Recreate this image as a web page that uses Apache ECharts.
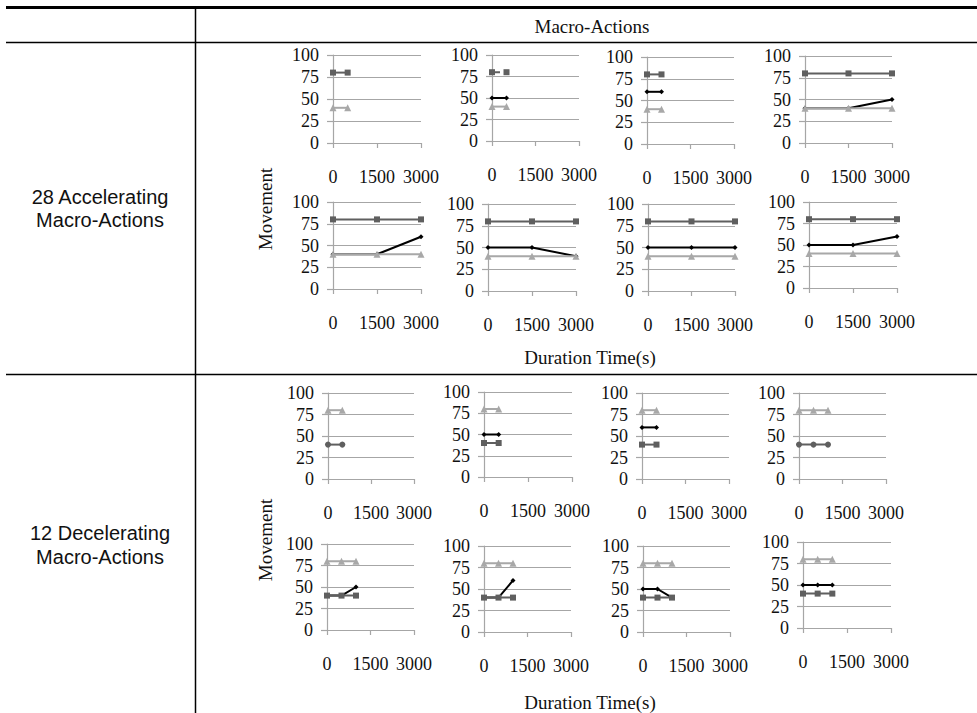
<!DOCTYPE html>
<html>
<head>
<meta charset="utf-8">
<script src="https://cdn.jsdelivr.net/npm/echarts@6/dist/echarts.min.js"></script>
<style>
html,body{margin:0;padding:0;background:#fff;}
#c{width:977px;height:713px;}
</style>
</head>
<body>
<div id="c"></div>
<script>
// ---- data ----
const xTicks = [0, 1500, 3000];
const yTicks = [0, 25, 50, 75, 100];
const groupLabels = ['28 Accelerating\nMacro-Actions', '12 Decelerating\nMacro-Actions'];
const headerLabel = 'Macro-Actions';
const xName = 'Duration Time(s)';
const yName = 'Movement';

// Accelerating macro-actions (8 panels)
const accTime  = [[0,500],[0,500],[0,500],[0,1500,3000],[0,1500,3000],[0,1500,3000],[0,1500,3000],[0,1500,3000]];
const accDark  = [[80,80],[80,80],[80,80],[80,80,80],[80,80,80],[80,80,80],[80,80,80],[80,80,80]];
const accLight = [[40,40],[40,40],[40,40],[40,40,40],[40,40,40],[40,40,40],[40,40,40],[40,40,40]];
const accBlack = [[],[50,50],[60,60],[40,40,50],[40,40,60],[50,50,40],[50,50,50],[50,50,60]];

// Decelerating macro-actions (8 panels)
const decTime  = [[0,500],[0,500],[0,500],[0,500,1000],[0,500,1000],[0,500,1000],[0,500,1000],[0,500,1000]];
const decLight = [[80,80],[80,80],[80,80],[80,80,80],[80,80,80],[80,80,80],[80,80,80],[80,80,80]];
const decDark  = [[40,40],[40,40],[40,40],[40,40,40],[40,40,40],[40,40,40],[40,40,40],[40,40,40]];
const decBlack = [[],[50,50],[60,60],[],[40,40,50],[40,40,60],[50,50,40],[50,50,50]];

// ---- layout (pixel boxes of each panel: left, right, top(100), bottom(0)) ----
const boxes = [
  [333,421,55,143],[492,579,55,141],[647,734,57,144],[805,892,56,143],
  [333,421,202,289],[488,576,204,291],[648,735,204,291],[809,897,202,288],
  [328,414,393,479],[484,572,392,477],[642,729,393,479],[799,886,393,479],
  [327,414,544,630],[484,571,546,632],[643,730,546,632],[803,891,542,628]
];

const DARK = '#5f5f5f', LIGHT = '#a8a8a8', BLACK = '#000000', GRID = '#a6a6a6';
const SERIF = 'Liberation Serif';
const SANS = 'Liberation Sans';

const grids = [], xAxes = [], yAxes = [], series = [];
function pairs(t, v){ return v.map((y,i)=>[t[i], y]); }

for (let k = 0; k < 16; k++) {
  const b = boxes[k];
  grids.push({left:b[0], top:b[2], width:b[1]-b[0], height:b[3]-b[2], containLabel:false});
  xAxes.push({
    gridIndex:k, type:'value', min:xTicks[0], max:xTicks[xTicks.length-1], interval:xTicks[1]-xTicks[0],
    axisLine:{show:true, onZero:false, lineStyle:{color:GRID, width:1.2}},
    axisTick:{show:true, length:5, lineStyle:{color:GRID, width:1.2}},
    splitLine:{show:false},
    axisLabel:{fontFamily:SERIF, fontSize:18, color:'#111', margin:25, formatter:(v)=>String(v), showMinLabel:true, showMaxLabel:true}
  });
  yAxes.push({
    gridIndex:k, type:'value', min:yTicks[0], max:yTicks[yTicks.length-1], interval:yTicks[1]-yTicks[0],
    axisLine:{show:true, lineStyle:{color:GRID, width:1.2}},
    axisTick:{show:true, length:6, lineStyle:{color:GRID, width:1.2}},
    splitLine:{show:true, lineStyle:{color:GRID, width:1.2}},
    axisLabel:{fontFamily:SERIF, fontSize:18, color:'#111', margin:14, formatter:(v)=>String(v)}
  });
  const acc = k < 8, i = k % 8;
  const t = acc ? accTime[i] : decTime[i];
  const blk = acc ? accBlack[i] : decBlack[i];
  const dark = acc ? accDark[i] : decDark[i];
  const light = acc ? accLight[i] : decLight[i];
  if (blk.length) series.push({type:'line', xAxisIndex:k, yAxisIndex:k, data:pairs(t,blk), z:2,
    symbol:'diamond', symbolSize:5, showSymbol:true, animation:false,
    lineStyle:{color:BLACK, width:2}, itemStyle:{color:BLACK}});
  series.push({type:'line', xAxisIndex:k, yAxisIndex:k, data:pairs(t,dark), z:3,
    symbol:(!acc && !blk.length) ? 'circle' : 'rect', symbolSize:6, animation:false,
    lineStyle:{color:DARK, width:2, type:(k===1?'dashed':'solid')}, itemStyle:{color:DARK}});
  series.push({type:'line', xAxisIndex:k, yAxisIndex:k, data:pairs(t,light), z:4,
    symbol:'triangle', symbolSize:7, animation:false,
    lineStyle:{color:LIGHT, width:2}, itemStyle:{color:LIGHT}});
}

const lineStyle = (w)=>({stroke:'#000', lineWidth:w});
const txt = (text, size, fam, extra)=>Object.assign({text:text, fontSize:size, fontFamily:fam, fill:'#111', textAlign:'center', textVerticalAlign:'middle'}, extra||{});
const graphic = [
  {type:'line', shape:{x1:6,y1:7.5,x2:977,y2:7.5}, style:lineStyle(3)},
  {type:'line', shape:{x1:6,y1:42.5,x2:977,y2:42.5}, style:lineStyle(1.5)},
  {type:'line', shape:{x1:6,y1:374.5,x2:977,y2:374.5}, style:lineStyle(1.5)},
  {type:'line', shape:{x1:195.5,y1:7,x2:195.5,y2:713}, style:lineStyle(1.5)},
  {type:'text', x:592, y:26, style:txt(headerLabel, 19, SERIF)},
  {type:'text', x:100, y:208, style:txt(groupLabels[0], 20, SANS, {lineHeight:23})},
  {type:'text', x:100, y:545, style:txt(groupLabels[1], 20, SANS, {lineHeight:24})},
  {type:'text', x:590, y:357, style:txt(xName, 19, SERIF)},
  {type:'text', x:590, y:702, style:txt(xName, 19, SERIF)},
  {type:'text', x:265, y:209, rotation:Math.PI/2, style:txt(yName, 19, SERIF)},
  {type:'text', x:265, y:540, rotation:Math.PI/2, style:txt(yName, 19, SERIF)}
];

const chart = echarts.init(document.getElementById('c'), null, {renderer:'svg'});
chart.setOption({animation:false, textStyle:{fontFamily:SERIF}, grid:grids, xAxis:xAxes, yAxis:yAxes, series:series, graphic:graphic});
</script>
</body>
</html>
